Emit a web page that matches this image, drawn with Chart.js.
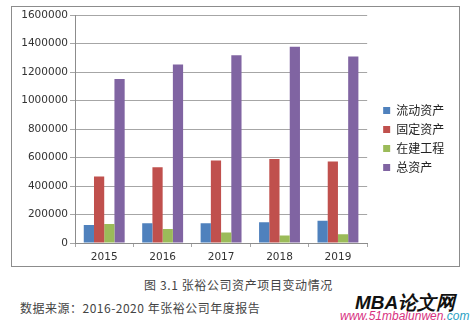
<!DOCTYPE html>
<html>
<head>
<meta charset="utf-8">
<script src="https://cdn.jsdelivr.net/npm/chart.js@4/dist/chart.umd.min.js"></script>
<style>
  body { margin:0; background:#fff; width:471px; height:326px; position:relative; overflow:hidden; font-family:"Noto Sans CJK SC", sans-serif; }
  #box { position:absolute; left:11px; top:6px; width:449px; height:261px; border:1px solid #8c8c8c; box-sizing:border-box; }
  #cap1 { position:absolute; left:0; width:471px; top:276px; text-align:center; font-size:12px; color:#444; letter-spacing:0.6px; padding-left:6px; box-sizing:border-box; }
  #cap2 { position:absolute; left:20px; top:299px; font-size:12px; color:#444; letter-spacing:0.5px; }
  #wm1 { position:absolute; left:355px; top:290px; font-family:"Liberation Sans", Arial, sans-serif; font-size:19px; font-weight:bold; font-style:italic; color:#111; }
  #wm2 { position:absolute; left:340px; top:309px; font-family:"Liberation Sans", Arial, sans-serif; font-size:12px; font-style:italic; color:#d8317f; }
  #wm2 span { color:#2a9fc4; }
</style>
</head>
<body>
<div id="box"><canvas id="c" width="447" height="259"></canvas></div>
<div id="cap1">图 3.1 张裕公司资产项目变动情况</div>
<div id="cap2">数据来源：2016-2020 年张裕公司年度报告</div>
<div id="wm1">MBA论文网</div>
<div id="wm2">www.51mbalunwen.<span>com</span></div>
<script>
// 数据
const years = ["2015", "2016", "2017", "2018", "2019"];
const liudong = [126000, 138000, 138000, 145000, 157000];    // 流动资产
const guding  = [468000, 533000, 580000, 590000, 573000];    // 固定资产
const zaijian = [133000, 98000, 74000, 53000, 62000];        // 在建工程
const zong    = [1153000, 1255000, 1319000, 1379000, 1310000]; // 总资产
const yTicksMax = 1600000;
const yStep = 200000;

const gridGray = "#a6a6a6";
const textColor = "#333";

const ctx = document.getElementById("c").getContext("2d");
new Chart(ctx, {
  type: "bar",
  data: {
    labels: years,
    datasets: [
      { label: "流动资产", data: liudong, backgroundColor: "#4f81bd" },
      { label: "固定资产", data: guding,  backgroundColor: "#c0504d" },
      { label: "在建工程", data: zaijian, backgroundColor: "#9bbb59" },
      { label: "总资产",   data: zong,    backgroundColor: "#8064a2" }
    ]
  },
  options: {
    responsive: false,
    animation: false,
    devicePixelRatio: 1,
    layout: { padding: { left: 0, right: 10, top: 5, bottom: 0 } },
    datasets: { bar: { categoryPercentage: 0.7, barPercentage: 1.0 } },
    plugins: {
      tooltip: { enabled: false },
      legend: {
        position: "right",
        labels: {
          boxWidth: 7, boxHeight: 7, padding: 7,
          color: "#222",
          font: { family: "'Noto Sans CJK SC', sans-serif", size: 12, lineHeight: 1.0 }
        }
      }
    },
    scales: {
      x: {
        grid: { offset: true, drawOnChartArea: false, tickLength: 4, color: gridGray },
        border: { color: "#8c8c8c" },
        ticks: { color: textColor, padding: 4, font: { family: "'DejaVu Sans', sans-serif", size: 10.5 } },
        afterFit: s => { s.height = 23; }
      },
      y: {
        min: 0, max: yTicksMax,
        grid: { color: gridGray, tickLength: 5 },
        border: { color: "#8c8c8c" },
        ticks: {
          stepSize: yStep, color: textColor, padding: 2,
          font: { family: "'DejaVu Sans', sans-serif", size: 10.5 },
          callback: v => String(v)
        },
        afterFit: s => { s.width = 63; }
      },
      // 右侧空轴，只用来留出图例前的空白
      gap: {
        position: "right", display: true,
        grid: { display: false }, border: { display: false },
        ticks: { display: false },
        afterFit: s => { s.width = 9; }
      }
    }
  }
});
</script>
</body>
</html>
